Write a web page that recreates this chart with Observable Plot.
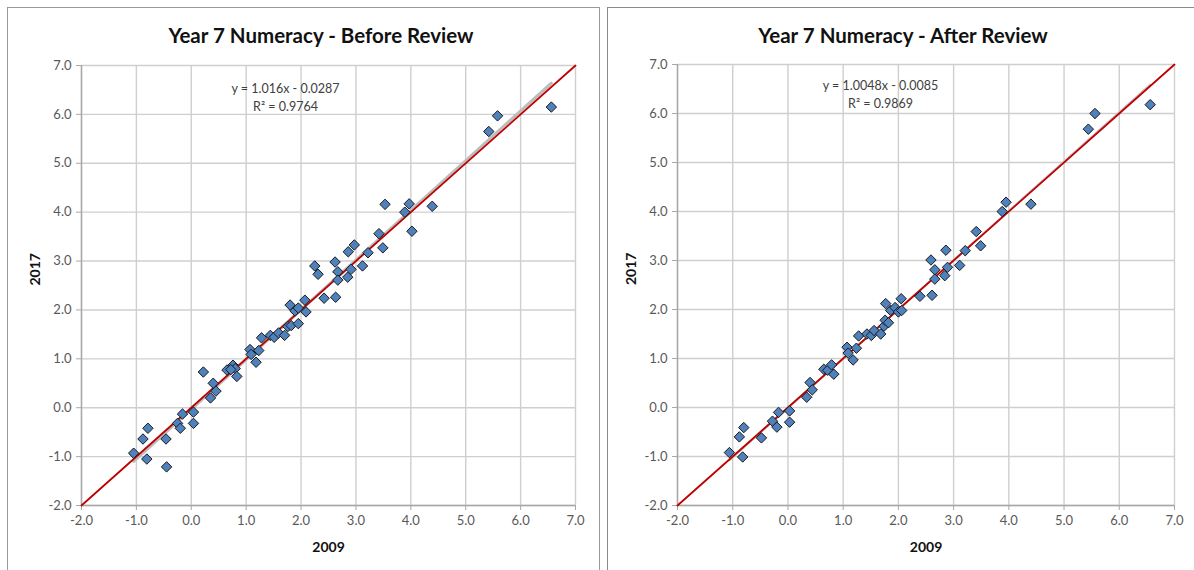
<!DOCTYPE html>
<html>
<head>
<meta charset="utf-8">
<script src="https://cdn.jsdelivr.net/npm/d3@7"></script>
<script src="https://cdn.jsdelivr.net/npm/@observablehq/plot@0.6"></script>
<style>
  html, body { margin: 0; padding: 0; background: #fff; }
  #root { position: relative; width: 1194px; height: 570px; overflow: hidden; background: #fff;
          font-family: Lato, "Open Sans", "Liberation Sans", sans-serif; }
  .panel { position: absolute; background: #fff; box-sizing: border-box; }
  .title { position: absolute; font-weight: bold; font-size: 20.5px; color: #111;
           transform: translate(-50%, -50%); white-space: nowrap; }
  .chart { position: absolute; top: 0; }
</style>
</head>
<body>
<div id="root"></div>
<script>
// ---------- data ----------
const titles = ["Year 7 Numeracy - Before Review", "Year 7 Numeracy - After Review"];
const xTitle = "2009";
const yTitle = "2017";

const axisTicks = [-2, -1, 0, 1, 2, 3, 4, 5, 6, 7];
const tickLabels = ["-2.0", "-1.0", "0.0", "1.0", "2.0", "3.0", "4.0", "5.0", "6.0", "7.0"];

const beforeX = [-1.05, -0.88, -0.79, -0.81, -0.46, -0.45, -0.25, -0.20, -0.16, 0.04,
                 0.04, 0.22, 0.35, 0.40, 0.45, 0.65, 0.76, 0.80, 0.83, 0.72,
                 1.07, 1.09, 1.18, 1.23, 1.28, 1.44, 1.51, 1.59, 1.70, 1.76,
                 1.82, 1.80, 1.89, 1.95, 1.95, 2.09, 2.07, 2.25, 2.31, 2.42,
                 2.62, 2.63, 2.67, 2.67, 2.85, 2.86, 2.91, 2.97, 3.12, 3.22,
                 3.42, 3.49, 3.53, 3.89, 3.97, 4.02, 4.39, 5.42, 5.58, 6.56];
const beforeY = [-0.93, -0.64, -0.42, -1.05, -0.64, -1.21, -0.32, -0.42, -0.13, -0.09,
                 -0.32, 0.73, 0.20, 0.50, 0.34, 0.77, 0.87, 0.80, 0.64, 0.78,
                 1.19, 1.09, 0.93, 1.17, 1.43, 1.48, 1.44, 1.53, 1.48, 1.66,
                 1.68, 2.10, 1.98, 2.04, 1.72, 1.96, 2.20, 2.90, 2.73, 2.24,
                 2.98, 2.26, 2.78, 2.61, 2.67, 3.19, 2.83, 3.33, 2.90, 3.17,
                 3.56, 3.27, 4.16, 4.00, 4.17, 3.61, 4.12, 5.65, 5.97, 6.15];

const afterX = [-1.06, -0.88, -0.80, -0.82, -0.48, -0.28, -0.20, -0.17, 0.03, 0.03,
                0.34, 0.40, 0.44, 0.65, 0.72, 0.79, 0.83, 1.07, 1.09, 1.18,
                1.24, 1.28, 1.43, 1.51, 1.56, 1.68, 1.74, 1.76, 1.82, 1.77,
                1.86, 1.94, 2.00, 2.06, 2.05, 2.39, 2.61, 2.59, 2.66, 2.66,
                2.84, 2.86, 2.89, 3.11, 3.21, 3.41, 3.49, 3.88, 3.95, 4.40,
                5.44, 5.56, 6.56];
const afterY = [-0.92, -0.60, -0.41, -1.01, -0.62, -0.28, -0.40, -0.10, -0.07, -0.30,
                0.21, 0.51, 0.36, 0.78, 0.76, 0.87, 0.68, 1.23, 1.11, 0.97,
                1.21, 1.46, 1.50, 1.47, 1.57, 1.50, 1.66, 1.78, 1.73, 2.12,
                1.98, 2.04, 1.95, 1.98, 2.22, 2.27, 2.29, 3.01, 2.81, 2.62,
                2.69, 3.21, 2.86, 2.90, 3.20, 3.59, 3.30, 4.00, 4.19, 4.15,
                5.68, 6.00, 6.18];

// trendline labels shown in the chart
const fitSlope = [1.016, 1.0048];
const fitIntercept = [-0.0287, -0.0085];
const fitSlopeText = ["1.016", "1.0048"];
const fitInterceptText = ["0.0287", "0.0085"];
const fitR2Text = ["0.9764", "0.9869"];

// reference line y = x
const identityX = [-2, 7];
const identityY = [-2, 7];

// ---------- drawing ----------
const FONT = 'Lato, "Open Sans", "Liberation Sans", sans-serif';
const fmt = d => tickLabels[axisTicks.indexOf(d)];

function makeChart(xs, ys, k, m) {
  const pts = xs.map((x, i) => ({x, y: ys[i]}));
  const ext = d3.extent(xs);
  const fit = ext.map(x => ({x, y: fitSlope[k] * x + fitIntercept[k]}));
  const ident = identityX.map((x, i) => ({x, y: identityY[i]}));
  const eq = [`y = ${fitSlopeText[k]}x - ${fitInterceptText[k]}`];
  const r2 = [`R\u00B2 = ${fitR2Text[k]}`];
  return Plot.plot({
    width: 600, height: 570,
    marginLeft: m.l, marginRight: m.r, marginTop: m.t, marginBottom: m.b,
    style: {fontFamily: FONT, fontSize: "13px", background: "transparent", overflow: "visible"},
    x: {domain: [-2, 7]},
    y: {domain: [-2, 7]},
    marks: [
      Plot.gridX(axisTicks, {stroke: "#cfcfcf", strokeOpacity: 1, strokeWidth: 1.4}),
      Plot.gridY(axisTicks, {stroke: "#cfcfcf", strokeOpacity: 1, strokeWidth: 1.4}),
      Plot.ruleX([-2], {stroke: "#a8a8a8", strokeWidth: 1.4}),
      Plot.ruleY([-2], {stroke: "#a8a8a8", strokeWidth: 1.4}),
      Plot.axisX(axisTicks, {tickFormat: fmt, tickSize: 5, tickPadding: 5, stroke: "#a8a8a8",
                 fill: "#595959", label: null}),
      Plot.axisY(axisTicks, {tickFormat: fmt, tickSize: 5, tickPadding: 5, stroke: "#a8a8a8",
                 fill: "#595959", label: null}),
      Plot.line(fit, {x: "x", y: "y", stroke: "#bdbdbd", strokeWidth: m.fitW}),
      Plot.line(ident, {x: "x", y: "y", stroke: "#c00000", strokeWidth: 1.8}),
      Plot.dot(pts, {x: "x", y: "y", symbol: "diamond2", r: 4.7, fill: "#4f81bd",
                     stroke: "#1b1b1b", strokeWidth: 1}),
      Plot.text(eq, {text: d => d, frameAnchor: "top-left", dx: m.eqx, dy: m.eqy,
                     textAnchor: "middle", fontSize: 12.5, fill: "#404040"}),
      Plot.text(r2, {text: d => d, frameAnchor: "top-left", dx: m.eqx, dy: m.eqy + 18,
                     textAnchor: "middle", fontSize: 12.5, fill: "#404040"}),
      Plot.text([xTitle], {text: d => d, frameAnchor: "bottom", dy: 46,
                           fontWeight: "bold", fontSize: 14, fill: "#111"}),
      Plot.text([yTitle], {text: d => d, frameAnchor: "left", dx: -46, rotate: -90,
                           fontWeight: "bold", fontSize: 14, fill: "#111"})
    ]
  });
}

const root = document.getElementById("root");

function addPanel(left, width, border) {
  const p = document.createElement("div");
  p.className = "panel";
  p.style.left = left + "px";
  p.style.top = "7px";
  p.style.width = width + "px";
  p.style.height = "600px";
  p.style.border = border;
  root.appendChild(p);
}
addPanel(7, 593, "1.5px solid #9a9a9a");
addPanel(607, 600, "1.5px solid #8a8a8a");

const layouts = [
  {left: 0,   l: 81, r: 25, t: 65, b: 65, eqx: 204, eqy: 19, tx: 321, fitW: 3.2},
  {left: 594, l: 83, r: 20, t: 64, b: 65, eqx: 203, eqy: 17, tx: 903, fitW: 2.2}
];
const series = [[beforeX, beforeY], [afterX, afterY]];

layouts.forEach((m, k) => {
  const holder = document.createElement("div");
  holder.className = "chart";
  holder.style.left = m.left + "px";
  holder.appendChild(makeChart(series[k][0], series[k][1], k, m));
  root.appendChild(holder);
  const t = document.createElement("div");
  t.className = "title";
  t.style.left = m.tx + "px";
  t.style.top = "35px";
  t.textContent = titles[k];
  root.appendChild(t);
});
</script>
</body>
</html>
